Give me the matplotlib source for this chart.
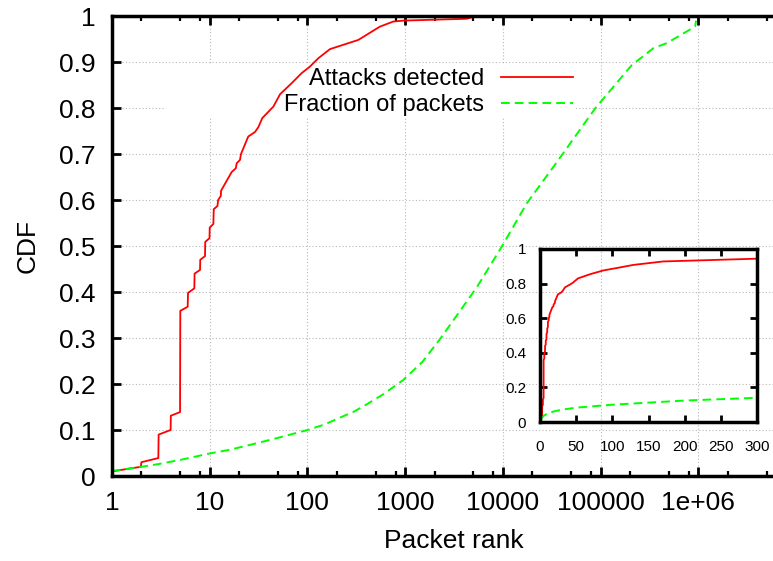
import matplotlib
matplotlib.use('Agg')
import matplotlib.pyplot as plt
from matplotlib.patches import Rectangle

plt.rcParams['font.family'] = ['Liberation Sans', 'DejaVu Sans']

# attacks detected: rank of the packet that triggered detection vs CDF
attack_rank = [1, 1.97, 2, 2.98, 3, 3.98, 4, 4.97, 5, 5.95, 6, 6.96, 7, 7.96, 8,
               8.95, 9, 9.95, 10, 10.9, 11, 12, 12.2, 13, 13.05, 16.8, 18.5, 18.9,
               20.4, 20.9, 24.8, 29.1, 31.4, 34.5, 44.8, 52.5, 69, 87.5, 106, 129,
               170, 332, 455, 553, 757, 959, 4270, 5000]
attack_cdf = [0.01, 0.02, 0.03, 0.039, 0.09, 0.1, 0.131, 0.139, 0.359, 0.368, 0.398,
              0.408, 0.44, 0.448, 0.47, 0.478, 0.509, 0.517, 0.54, 0.548, 0.58, 0.587,
              0.6, 0.609, 0.62, 0.661, 0.669, 0.68, 0.687, 0.7, 0.738, 0.748, 0.758,
              0.778, 0.803, 0.83, 0.854, 0.876, 0.89, 0.908, 0.928, 0.948, 0.966,
              0.977, 0.988, 0.99, 0.994, 0.998]

# fraction of packets covered up to a given rank
packet_rank = [1, 2, 3, 5, 10, 16, 20, 30, 50, 100, 150, 200, 300, 406, 600, 960,
               1500, 2280, 5400, 9400, 17600, 37000, 87900, 208000, 347000, 476000,
               927000, 950000]
packet_cdf = [0.011, 0.02, 0.026, 0.035, 0.049, 0.057, 0.062, 0.071, 0.083, 0.1,
              0.112, 0.124, 0.14, 0.156, 0.178, 0.209, 0.248, 0.298, 0.41, 0.493,
              0.593, 0.687, 0.799, 0.893, 0.93, 0.941, 0.977, 0.99]

xtick_vals = [1, 10, 100, 1000, 10000, 100000, 1000000]
xtick_labels = ['1', '10', '100', '1000', '10000', '100000', '1e+06']
ytick_vals = [i / 10 for i in range(11)]
ytick_labels = ['0', '0.1', '0.2', '0.3', '0.4', '0.5', '0.6', '0.7', '0.8', '0.9', '1']
minor_vals = [m * 10 ** e for e in range(7) for m in (2, 5, 8)]

inset_xticks = [0, 50, 100, 150, 200, 250, 300]
inset_yticks = [0, 0.2, 0.4, 0.6, 0.8, 1]
inset_ylabels = ['0', '0.2', '0.4', '0.6', '0.8', '1']

fig = plt.figure(figsize=(7.73, 5.61), dpi=100)
W, H = 773, 561

ax = fig.add_axes([112 / W, (H - 476) / H, 684 / W, 460 / H])
ax.set_axisbelow(True)
ax.plot(attack_rank, attack_cdf, color='#ff0000', lw=1.3, label='Attacks detected', zorder=2)
ax.plot(packet_rank, packet_cdf, color='#00ff00', lw=1.4, ls=(0, (4.5, 2.6)),
        label='Fraction of packets', zorder=2)
ax.set_xscale('log')
ax.set_xticks(xtick_vals)
ax.set_xticklabels(xtick_labels)
ax.set_xticks(minor_vals, minor=True)
ax.set_xticklabels([], minor=True)
ax.set_yticks(ytick_vals)
ax.set_yticklabels(ytick_labels)
ax.grid(True, which='major', color='#b8b8b8', ls=(0, (1, 2)), lw=0.8)
for s in ax.spines.values():
    s.set_linewidth(2.5)
ax.tick_params(which='major', direction='in', length=6.5, width=2, top=True,
               right=True, labelsize=19, pad=11)
ax.tick_params(axis='y', which='major', pad=12)
ax.tick_params(which='minor', direction='in', length=3.5, width=1.6, top=True)
ax.set_xlabel('Packet rank', fontsize=19, labelpad=10)
ax.set_ylabel('CDF', fontsize=19, labelpad=14)

# opaque key box (masks the grid, curves stay on top)
ax.add_patch(Rectangle((165 / W, (H - 118) / H), 410 / W, 53 / H,
                       transform=fig.transFigure, facecolor='white',
                       edgecolor='none', zorder=1))
ax.set_xlim(1, 1e7)
ax.set_ylim(0, 1)

leg = ax.legend(loc='upper right', bbox_to_anchor=(573 / W, (H - 68) / H),
                bbox_transform=fig.transFigure, frameon=False, markerfirst=False,
                fontsize=17, handlelength=3.05, handletextpad=0.72,
                labelspacing=0.19, borderpad=0, borderaxespad=0)
leg._legend_handle_box.get_children()[0].align = 'right'

# inset with linear x axis
ax2 = fig.add_axes([540 / W, (H - 422) / H, 217 / W, 173 / H])
ax2.patch.set_alpha(0)
ax2.plot(attack_rank, attack_cdf, color='#ff0000', lw=1.3)
ax2.plot(packet_rank, packet_cdf, color='#00ff00', lw=1.4, ls=(0, (4.5, 2.6)))
ax2.set_xlim(0, 300)
ax2.set_ylim(0, 1)
ax2.set_xticks(inset_xticks)
ax2.set_yticks(inset_yticks)
ax2.set_yticklabels(inset_ylabels)
for s in ax2.spines.values():
    s.set_linewidth(2.5)
ax2.tick_params(direction='in', length=5, width=2, top=True, right=True,
                labelsize=11)
ax2.tick_params(axis='x', pad=13)
ax2.tick_params(axis='y', pad=10)

plt.savefig('out.png', dpi=100)
plt.close()
